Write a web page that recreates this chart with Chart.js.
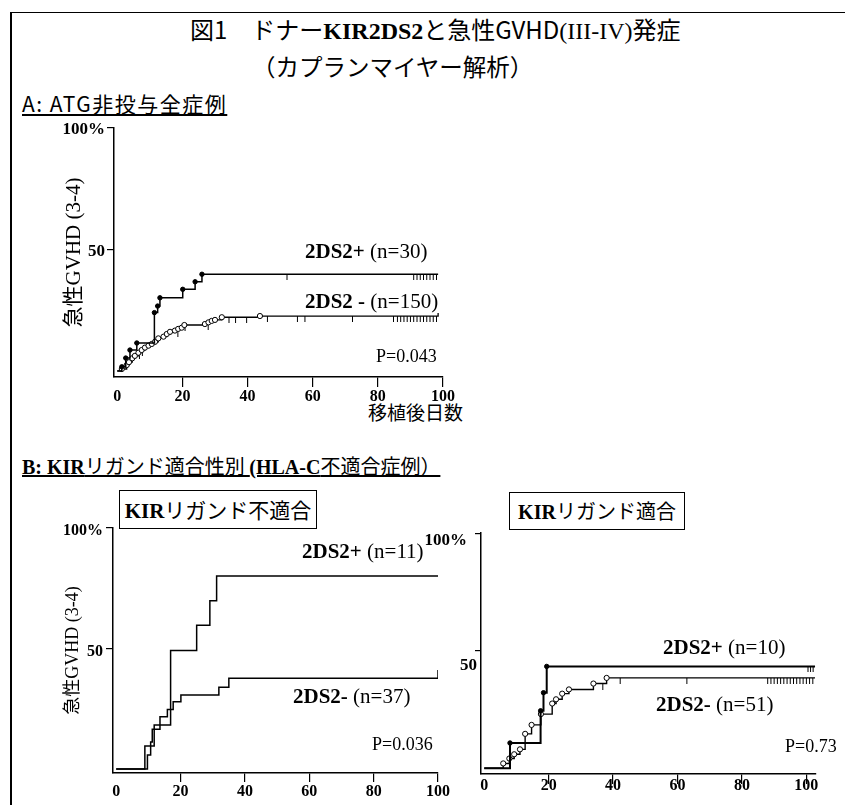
<!DOCTYPE html>
<html>
<head>
<meta charset="utf-8">
<script src="https://cdn.jsdelivr.net/npm/chart.js@4.4.1/dist/chart.umd.min.js"></script>
<style>
body { margin: 0; width: 845px; height: 805px; background: #fff; position: relative; overflow: hidden;
       font-family: 'Noto Sans CJK JP', sans-serif; color: #000; }
.frame { position: absolute; left: 10px; top: 12px; width: 840px; height: 800px;
         border-top: 1.5px solid #000; border-left: 2px solid #000; }
.t { position: absolute; white-space: nowrap; line-height: 1.2; }
.serif { font-family: 'Liberation Serif', serif; }
.b { font-weight: bold; }
.box { position: absolute; border: 1px solid #000; text-align: center; white-space: nowrap; }
canvas { position: absolute; }
</style>
</head>
<body>
<div class="frame"></div>

<div class="t" style="left:190px;top:15px;font-size:24px;">図1　ドナー<span class="serif b">KIR2DS2</span>と急性GVHD<span class="serif">(III-IV)</span>発症</div>
<div class="t" style="left:252px;top:52px;font-size:23.5px;">（カプランマイヤー解析）</div>

<div class="t" style="left:22px;top:91px;font-size:21px;letter-spacing:1.5px;text-decoration:underline;">A: ATG非投与全症例</div>
<div class="t" style="left:368px;top:401px;font-size:19px;">移植後日数</div>
<div class="t" style="left:22px;top:454px;font-size:20px;text-decoration:underline;"><span class="serif b">B: KIR</span>リガンド適合性別 <span class="serif b">(HLA-C</span>不適合症例）</div>

<div class="box" style="left:119px;top:490px;width:196px;height:37px;line-height:37px;font-size:21px;"><span class="serif b">KIR</span>リガンド不適合</div>
<div class="box" style="left:509px;top:492px;width:174px;height:36px;line-height:36px;font-size:20px;"><span class="serif b">KIR</span>リガンド適合</div>

<canvas id="chartA" width="430" height="320" style="left:40px;top:110px;"></canvas>
<canvas id="chartB1" width="430" height="290" style="left:40px;top:515px;"></canvas>
<canvas id="chartB2" width="425" height="290" style="left:420px;top:515px;"></canvas>

<div class="t serif" style="left:305px;top:239px;font-size:21px;"><span class="b">2DS2+</span> (n=30)</div>
<div class="t serif" style="left:305px;top:289px;font-size:21px;"><span class="b">2DS2 -</span> (n=150)</div>
<div class="t serif" style="left:376px;top:346px;font-size:18px;">P=0.043</div>

<div class="t serif" style="left:302px;top:539px;font-size:21px;"><span class="b">2DS2+</span> (n=11)</div>
<div class="t serif" style="left:293px;top:684px;font-size:21px;"><span class="b">2DS2-</span> (n=37)</div>
<div class="t serif" style="left:372px;top:734px;font-size:18px;">P=0.036</div>

<div class="t serif" style="left:663px;top:635px;font-size:21px;"><span class="b">2DS2+</span> (n=10)</div>
<div class="t serif" style="left:656px;top:692px;font-size:21px;"><span class="b">2DS2-</span> (n=51)</div>
<div class="t serif" style="left:785px;top:736px;font-size:18px;">P=0.73</div>
<div class="t serif b" style="left:457px;top:655px;width:20px;text-align:right;font-size:17px;">50</div>

<script>
const xTicks = [0, 20, 40, 60, 80, 100];
const yTicks = [50, 100];

// A: ATG非投与全症例
const aPosDays = [0, 1.4, 2.6, 3.9, 6.0, 11.4, 12.4, 13.1, 20.1, 23.9, 26.0, 98.5];
const aPosPct  = [0, 1.7, 5.3, 8.6, 11.5, 24.0, 26.7, 30.1, 33.6, 36.7, 39.8, 39.8];
const aPosCens = [52.1, 91, 92, 93, 94, 95, 96, 97, 98];
const aNegDays = [0, 1.4, 2.9, 3.6, 4.6, 5.4, 6.5, 7.5, 8.5, 9.6, 10.6, 11.6, 12.6, 14.2, 15.2, 16.2, 17.7, 18.7, 19.8, 20.6, 26.9, 28.0, 29.0, 30.0, 32.1, 43.8, 98.5];
const aNegPct  = [0, 0.8, 2.4, 3.6, 5.2, 6.2, 7.5, 8.6, 9.6, 10.4, 11.1, 12.0, 13.4, 14.1, 15.2, 16.1, 16.6, 17.3, 17.8, 18.9, 19.3, 20.0, 20.6, 21.0, 22.1, 22.6, 23.8];
const aNegCens = [6.8, 7.7, 18.6, 20.8, 27.9, 34.3, 36.3, 39.7, 46.1, 55.3, 57.6, 72.2, 84.8, 86, 87, 88, 89, 90, 91, 92, 93, 94, 95, 96, 97, 98];

// B: KIRリガンド不適合
const bMisPosDays = [0, 8.9, 11.8, 16.9, 25.0, 29.1, 31.2, 100];
const bMisPosPct  = [0, 9.5, 18.2, 49.1, 59.6, 69.8, 80.1, 80.1];
const bMisNegDays = [0, 9.7, 10.7, 11.2, 13.6, 15.9, 17.7, 20.1, 31.9, 35.0, 100];
const bMisNegPct  = [0, 5.8, 11.2, 16.5, 21.7, 24.7, 27.9, 30.7, 33.9, 37.6, 41.1];

// B: KIRリガンド適合
const bMatPosDays = [0, 8.0, 17.5, 18.4, 19.4, 102.7];
const bMatPosPct  = [0, 10.7, 24.4, 32.1, 43.3, 43.3];
const bMatPosCens = [100.5, 101.3, 102.1];
const bMatNegDays = [0, 5.9, 7.8, 9.3, 11.1, 12.7, 14.7, 17.6, 21.1, 22.3, 24.2, 26.3, 33.9, 38.0, 102.7];
const bMatNegPct  = [0, 2.0, 4.1, 5.9, 8.0, 14.6, 18.4, 23.0, 27.5, 29.3, 31.7, 33.5, 36.0, 38.4, 38.4];
const bMatNegCens = [36.8, 42.2, 62.9, 88, 89, 90, 91, 92, 93, 94, 95, 96, 97, 98, 99, 100, 101, 102];


// small vertical tick hanging below the curve
function censorMark(len)
{
    let c = document.createElement('canvas');
    c.width = 3;
    c.height = len * 2;
    let g = c.getContext('2d');
    g.fillStyle = '#000';
    g.fillRect(1, len, 1, len);
    return c;
}

function levelAt(days, pct, d)
{
    let v = 0;
    for (let i = 0; i < days.length; i++) {
        if (days[i] <= d) v = pct[i];
    }
    return v;
}

function kmChart(id, o)
{
    let datasets = [];
    o.curves.forEach(c => {
        let pts = c.days.map((d, i) => ({x: d, y: c.pct[i]}));
        datasets.push({
            data: pts,
            stepped: true,
            fill: false,
            borderColor: '#000',
            borderWidth: c.width,
            pointRadius: ctx => (!c.dot || ctx.dataIndex === 0 || ctx.dataIndex === pts.length - 1) ? 0 : (c.dot === 'open' ? 2.6 : 2.2),
            pointBackgroundColor: c.dot === 'open' ? '#fff' : '#000',
            pointBorderColor: '#000',
            pointBorderWidth: 1
        });
        if (c.cens) {
            datasets.push({
                data: c.cens.map(d => ({x: d, y: levelAt(c.days, c.pct, d)})),
                showLine: false,
                pointStyle: censorMark(6),
                pointRadius: 3
            });
        }
    });

    let yTitle = o.yTitle ? {
        display: true,
        text: '急性GVHD (3-4)',
        color: '#000',
        font: {family: "'Liberation Serif', 'Noto Sans CJK JP'", size: o.yTitleSize},
        padding: {top: o.yTitlePad, bottom: 0}
    } : {display: false};

    return new Chart(document.getElementById(id).getContext('2d'), {
        type: 'line',
        data: {datasets: datasets},
        options: {
            responsive: false,
            animation: false,
            layout: {padding: o.pad},
            plugins: {legend: {display: false}, tooltip: {enabled: false}},
            scales: {
                x: {
                    type: 'linear',
                    min: o.xMin,
                    max: o.xMax,
                    afterBuildTicks: s => { s.ticks = xTicks.map(v => ({value: v})); },
                    afterFit: s => { s.height = o.xH; },
                    border: {display: true, color: '#000', width: 1.5},
                    grid: {
                        drawOnChartArea: false,
                        tickLength: o.xTL,
                        lineWidth: 1.2,
                        color: c => (c.tick && c.tick.value === 0) ? 'rgba(0,0,0,0)' : '#000'
                    },
                    ticks: {
                        color: '#000', padding: o.xPad, autoSkip: false, maxRotation: 0,
                        font: {family: 'Liberation Serif', weight: 'bold', size: 16}
                    }
                },
                y: {
                    min: o.yMin,
                    max: 100,
                    afterBuildTicks: s => { s.ticks = yTicks.map(v => ({value: v})); },
                    afterFit: s => { s.width = o.yW; },
                    border: {display: true, color: '#000', width: 1.5},
                    grid: {drawOnChartArea: false, tickLength: o.yTL, lineWidth: 1.2, color: '#000'},
                    ticks: {
                        color: '#000', padding: o.yPad, labelOffset: o.yLabelOffset,
                        font: {family: 'Liberation Serif', weight: 'bold', size: o.yFont},
                        callback: v => v === 100 ? '100%' : (o.hide50 ? '' : String(v))
                    },
                    title: yTitle
                }
            }
        }
    });
}

kmChart('chartA', {
    pad: {left: 14, top: 18, right: 27, bottom: 13},
    xMin: -1, xMax: 100, xH: 40, xTL: 10, xPad: 0,
    yMin: -2.5, yW: 60, yTL: 7, yPad: 2, yFont: 17, yLabelOffset: 2,
    yTitle: true, yTitleSize: 21, yTitlePad: 8,
    curves: [
        {days: aPosDays, pct: aPosPct, cens: aPosCens, dot: 'filled', width: 1.5},
        {days: aNegDays, pct: aNegPct, cens: aNegCens, dot: 'open', width: 1.3}
    ]
});

kmChart('chartB1', {
    pad: {left: 13, top: 13, right: 32, bottom: 0},
    xMin: -1, xMax: 100, xH: 32, xTL: 9, xPad: 0,
    yMin: -1.7, yW: 60, yTL: 7, yPad: 3, yFont: 16, yLabelOffset: 3,
    yTitle: true, yTitleSize: 18, yTitlePad: 9,
    curves: [
        {days: bMisPosDays, pct: bMisPosPct, width: 1.5},
        {days: bMisNegDays, pct: bMisNegPct, width: 1.5}
    ]
});

kmChart('chartB2', {
    pad: {left: 1, top: 15, right: 29, bottom: 0},
    xMin: -1, xMax: 103, xH: 31, xTL: 10, xPad: -8,
    yMin: -2.5, yW: 60, yTL: 6, yPad: 8, yFont: 17, yLabelOffset: 7, hide50: true,
    yTitle: false,
    curves: [
        {days: bMatPosDays, pct: bMatPosPct, cens: bMatPosCens, dot: 'filled', width: 2},
        {days: bMatNegDays, pct: bMatNegPct, cens: bMatNegCens, dot: 'open', width: 1.4}
    ]
});
</script>
</body>
</html>
